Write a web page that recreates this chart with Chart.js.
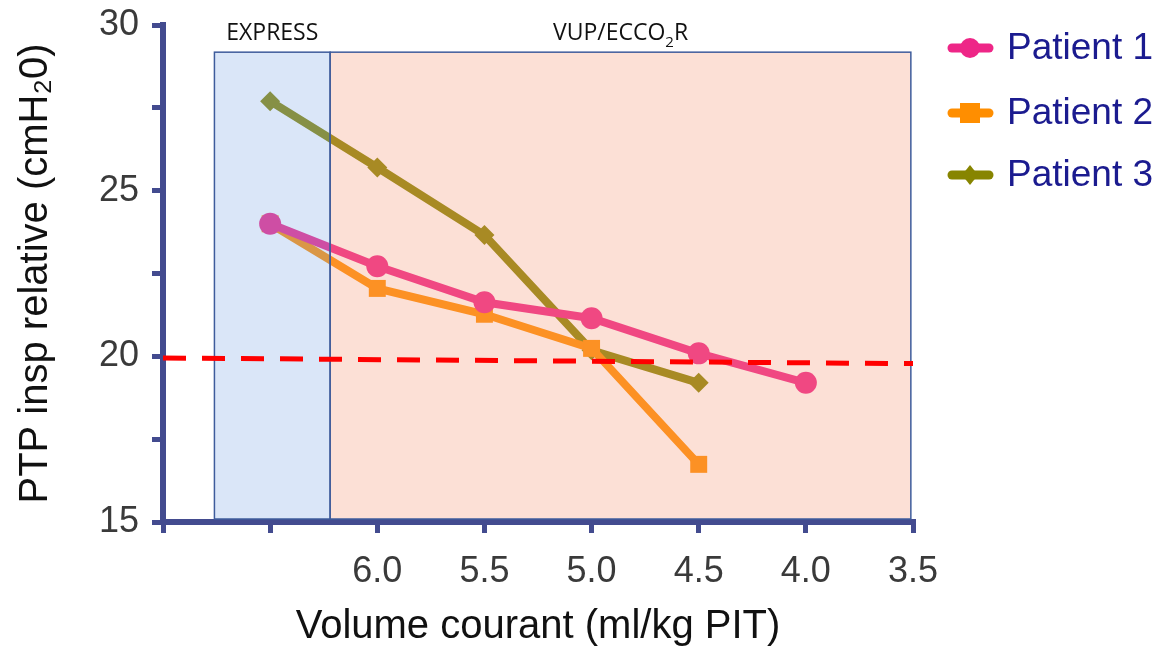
<!DOCTYPE html>
<html>
<head>
<meta charset="utf-8">
<script src="https://cdn.jsdelivr.net/npm/chart.js@4.4.1/dist/chart.umd.min.js"></script>
<style>
    html, body { margin: 0; padding: 0; background: #fff; }
    #wrap { width: 1170px; height: 655px; }
</style>
</head>
<body>
<div id="wrap"><canvas id="chart"></canvas></div>
<script>
// Volume courant (ml/kg) on x, PTP insp relative on y
const volumes1 = [6.5, 6.0, 5.5, 5.0, 4.5, 4.0];
const patient1 = [24.0, 22.72, 21.63, 21.15, 20.09, 19.2];
const volumes2 = [6.5, 6.0, 5.5, 5.0, 4.5];
const patient2 = [24.0, 22.05, 21.27, 20.24, 16.74];
const volumes3 = [6.5, 6.0, 5.5, 5.0, 4.5];
const patient3 = [27.7, 25.7, 23.66, 20.18, 19.2];

// threshold line (slightly tilted in the original)
const thresholdX = [7.0, 3.5];
const thresholdY = [19.95, 19.78];

// shaded phases
const phaseLabels = ["EXPRESS", "VUP/ECCO2R"];
const phaseFrom = [6.76, 6.22];
const phaseTo = [6.22, 3.51];
const phaseTop = 29.18;

const seriesNames = ["Patient 1", "Patient 2", "Patient 3"];

const axisColor = "#434B8F";

function toPoints(xs, ys) {
    return xs.map((x, i) => ({ x: x, y: ys[i] }));
}

// text with a lowered "2" (ECCO2R)
function drawSubText(c, text, cx, y) {
    const big = "23px 'Open Sans'";
    const small = "15px 'Open Sans'";
    const k = text.indexOf("2");
    if (k < 0) {
        c.font = big;
        c.textAlign = "center";
        c.fillText(text, cx, y);
        return;
    }
    const a = text.slice(0, k), b = text.slice(k + 1);
    c.font = big;
    const wa = c.measureText(a).width, wb = c.measureText(b).width;
    c.font = small;
    const ws = c.measureText("2").width;
    let x = cx - (wa + ws + wb) / 2;
    c.textAlign = "left";
    c.font = big;
    c.fillText(a, x, y);
    c.font = small;
    c.fillText("2", x + wa, y + 7);
    c.font = big;
    c.fillText(b, x + wa + ws, y);
}

// phase boxes are a see-through layer over the patient curves,
// the red threshold goes on top of them
const phasePlugin = {
    id: "phases",
    afterDatasetDraw(chart, args) {
        if (args.index !== 1) return;
        const c = chart.ctx;
        const xs = chart.scales.x;
        const ys = chart.scales.y;
        const fills = ["rgba(132,172,232,0.3)", "rgba(245,152,118,0.3)"];
        const top = ys.getPixelForValue(phaseTop);
        const bottom = ys.getPixelForValue(15) - 3;
        c.save();
        for (let i = 0; i < phaseLabels.length; i++) {
            const x1 = xs.getPixelForValue(phaseFrom[i]);
            const x2 = xs.getPixelForValue(phaseTo[i]);
            c.fillStyle = fills[i];
            c.fillRect(x1, top, x2 - x1, bottom - top);
            c.strokeStyle = "#3E5C9C";
            c.lineWidth = 1.5;
            c.strokeRect(x1, top, x2 - x1, bottom - top);
            c.fillStyle = "#111";
            c.textBaseline = "alphabetic";
            drawSubText(c, phaseLabels[i], (x1 + x2) / 2, top - 12);
        }
        c.restore();
    }
};

// legend with line + marker, like the original
const legendPlugin = {
    id: "lineLegend",
    afterDraw(chart) {
        const c = chart.ctx;
        const rows = [48, 113, 175];
        c.save();
        for (let i = 0; i < seriesNames.length; i++) {
            const ds = chart.data.datasets[i + 1];
            const y = rows[i];
            c.strokeStyle = ds.borderColor;
            c.lineWidth = 9;
            c.lineCap = "round";
            c.beginPath();
            c.moveTo(952, y);
            c.lineTo(989, y);
            c.stroke();
            c.fillStyle = ds.borderColor;
            c.beginPath();
            if (ds.pointStyle === "circle") {
                c.arc(970, y, 10, 0, Math.PI * 2);
            } else if (ds.pointStyle === "rect") {
                c.rect(960, y - 10, 20, 20);
            } else {
                c.moveTo(970, y - 10);
                c.lineTo(978, y);
                c.lineTo(970, y + 10);
                c.lineTo(962, y);
                c.closePath();
            }
            c.fill();
            c.fillStyle = "#1B1B8F";
            c.font = "37px 'Liberation Sans'";
            c.textAlign = "left";
            c.textBaseline = "middle";
            c.fillText(seriesNames[i], 1007, y + 1);
        }
        c.restore();
    }
};

const data = {
    datasets: [
        {
            label: "seuil",
            data: toPoints(thresholdX, thresholdY),
            borderColor: "#FF0000",
            borderWidth: 5,
            borderDash: [23, 16],
            pointRadius: 0,
        },
        {
            label: seriesNames[0],
            data: toPoints(volumes1, patient1),
            borderColor: "#EE2687",
            backgroundColor: "#EE2687",
            borderWidth: 8,
            pointStyle: "circle",
            pointRadius: 11,
            pointBorderWidth: 0,
        },
        {
            label: seriesNames[1],
            data: toPoints(volumes2, patient2),
            borderColor: "#FF8E00",
            backgroundColor: "#FF8E00",
            borderWidth: 8,
            pointStyle: "rect",
            pointRadius: 12,
            pointBorderWidth: 0,
        },
        {
            label: seriesNames[2],
            data: toPoints(volumes3, patient3),
            borderColor: "#878500",
            backgroundColor: "#878500",
            borderWidth: 8,
            pointStyle: "rectRot",
            pointRadius: 10,
            pointBorderWidth: 0,
        },
    ],
};

const config = {
    type: "line",
    data: data,
    plugins: [phasePlugin, legendPlugin],
    options: {
        responsive: true,
        maintainAspectRatio: false,
        animation: false,
        layout: {
            padding: { top: 25, right: 257, left: 0, bottom: 0 },
        },
        plugins: {
            legend: { display: false },
            tooltip: { enabled: false },
        },
        scales: {
            x: {
                type: "linear",
                reverse: true,
                min: 3.5,
                max: 7.0,
                afterFit: (scale) => {
                    scale.height = 133;
                    scale.paddingLeft = 0;
                    scale.paddingRight = 0;
                },
                ticks: {
                    stepSize: 0.5,
                    padding: 17,
                    color: "#3a3a3a",
                    font: { family: "'Liberation Sans'", size: 36 },
                    callback: (v) => (v <= 6.0 ? v.toFixed(1) : ""),
                },
                grid: {
                    drawOnChartArea: false,
                    drawTicks: true,
                    tickLength: 11,
                    color: axisColor,
                    lineWidth: 5,
                },
                border: { color: axisColor, width: 6 },
                title: {
                    display: true,
                    text: "Volume courant (ml/kg PIT)",
                    color: "#111",
                    font: { family: "'Liberation Sans'", size: 40 },
                    padding: { top: 0, bottom: 4 },
                },
            },
            y: {
                min: 15,
                max: 30,
                afterFit: (scale) => {
                    scale.width = 163;
                    scale.paddingTop = 0;
                    scale.paddingBottom = 0;
                },
                ticks: {
                    stepSize: 2.5,
                    padding: 13,
                    color: "#3a3a3a",
                    font: { family: "'Liberation Sans'", size: 36 },
                    callback: (v) => (v % 5 === 0 ? v : ""),
                },
                grid: {
                    drawOnChartArea: false,
                    drawTicks: true,
                    tickLength: 11,
                    color: axisColor,
                    lineWidth: 5,
                },
                border: { color: axisColor, width: 6 },
                title: {
                    display: true,
                    text: "PTP insp relative (cmH\u20820)",
                    color: "#111",
                    font: { family: "'Liberation Sans'", size: 40 },
                    padding: { top: 12, bottom: 0 },
                },
            },
        },
    },
};

const ctx = document.getElementById("chart");
const ptpChart = new Chart(ctx, config);
</script>
</body>
</html>
